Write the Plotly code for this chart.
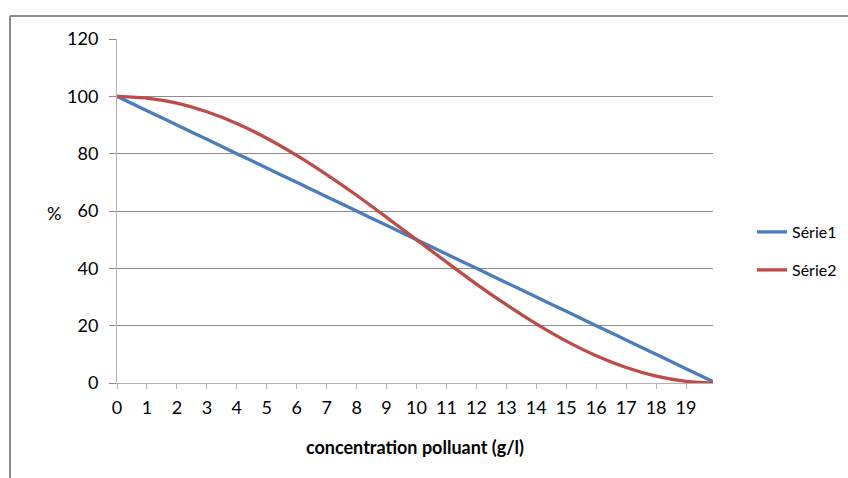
import plotly.graph_objects as go

# Data
x_vals = [0, 1, 2, 3, 4, 5, 6, 7, 8, 9, 10, 11, 12, 13, 14, 15, 16, 17, 18, 19, 19.9]
serie1 = [100, 95, 90, 85, 80, 75, 70, 65, 60, 55, 50, 45, 40, 35, 30, 25, 20, 15, 10, 5, 0.5]
serie2 = [100, 99.4, 97.6, 94.6, 90.5, 85.4, 79.4, 72.7, 65.5, 57.8, 50, 42.2, 34.5, 27.3,
          20.6, 14.6, 9.5, 5.4, 2.4, 0.6, 0.0]
tick_positions = list(range(0, 20))
tick_labels = [str(v) for v in tick_positions]
y_ticks = [0, 20, 40, 60, 80, 100, 120]

FONT = "Lato, 'Open Sans', sans-serif"

fig = go.Figure()
fig.add_trace(go.Scatter(x=x_vals, y=serie1, mode="lines", name="Série1",
                         line=dict(color="#4A7EBB", width=3.3, shape="spline", smoothing=0.6),
                         legend="legend"))
fig.add_trace(go.Scatter(x=x_vals, y=serie2, mode="lines", name="Série2",
                         line=dict(color="#BE4B48", width=3.3, shape="spline", smoothing=0.6),
                         legend="legend2"))

L, R, T, B = 117, 135, 39, 95
W, H = 848, 478
pw, ph = W - L - R, H - T - B

def px(p):
    return (p - L) / pw

def py(p):
    return (H - B - p) / ph

fig.update_layout(
    width=W, height=H,
    margin=dict(l=L, r=R, t=T, b=B, autoexpand=False),
    paper_bgcolor="white", plot_bgcolor="white",
    font=dict(family=FONT, size=18, color="#000000"),
    showlegend=True,
    legend=dict(x=px(752), y=py(232), xanchor="left", yanchor="middle",
                font=dict(size=16), bgcolor="rgba(0,0,0,0)"),
    legend2=dict(x=px(752), y=py(270), xanchor="left", yanchor="middle",
                 font=dict(size=16), bgcolor="rgba(0,0,0,0)"),
    xaxis=dict(range=[0, 19.9], tickmode="array", tickvals=tick_positions, ticktext=tick_labels,
               showgrid=False, zeroline=False, showline=True, linecolor="#B3B3B3", linewidth=1,
               ticks="outside", ticklen=5, tickcolor="#B3B3B3", ticklabelstandoff=3,
               tickfont=dict(size=18, family=FONT),
               title=dict(text="<b>concentration polluant (g/l)</b>", standoff=24,
                          font=dict(size=18, family=FONT))),
    yaxis=dict(range=[0, 120], tickmode="array", tickvals=y_ticks,
               showgrid=True, gridcolor="#8C8C8C", gridwidth=1, zeroline=False,
               showline=True, linecolor="#B3B3B3", linewidth=1,
               ticks="outside", ticklen=7, tickcolor="#8C8C8C", ticklabelstandoff=7,
               tickfont=dict(size=18, family=FONT)),
    annotations=[dict(text="%", x=px(45), y=py(213), xref="paper", yref="paper",
                      showarrow=False, font=dict(size=18, family=FONT))],
    shapes=[
        dict(type="line", xref="paper", yref="paper", x0=px(10), y0=py(16), x1=px(860), y1=py(16),
             line=dict(color="#8C8C8C", width=2)),
        dict(type="line", xref="paper", yref="paper", x0=px(10), y0=py(16), x1=px(10), y1=py(490),
             line=dict(color="#8C8C8C", width=2)),
    ],
)

fig.write_html("out.html")
